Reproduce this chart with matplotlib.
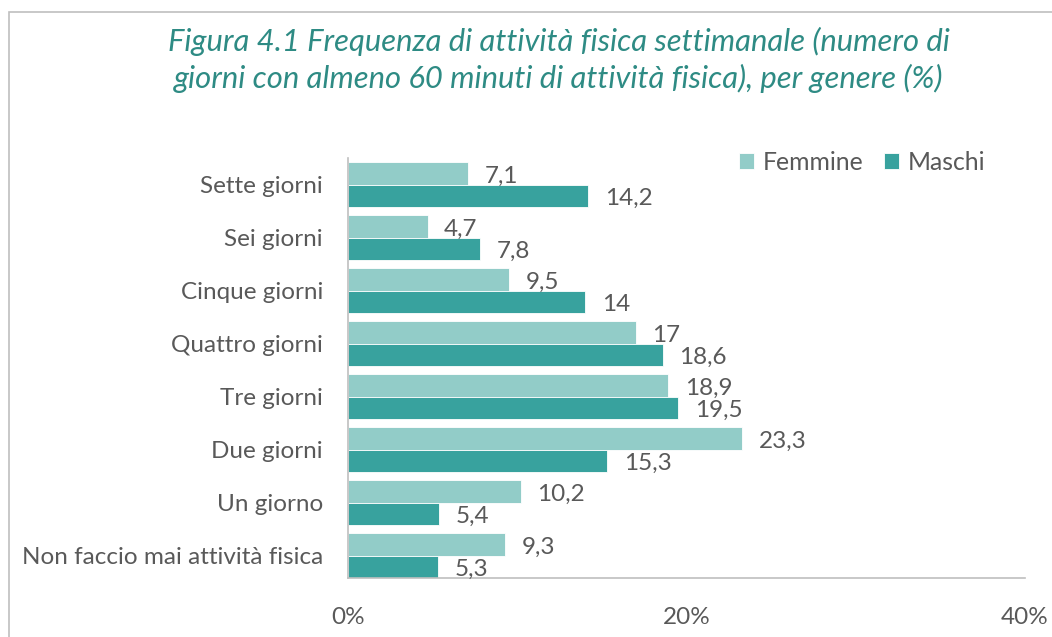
import matplotlib
matplotlib.use("Agg")
import matplotlib.pyplot as plt
from matplotlib.patches import Rectangle
import numpy as np

categories = ["Sette giorni", "Sei giorni", "Cinque giorni", "Quattro giorni",
              "Tre giorni", "Due giorni", "Un giorno", "Non faccio mai attività fisica"]
femmine = [7.1, 4.7, 9.5, 17, 18.9, 23.3, 10.2, 9.3]
maschi = [14.2, 7.8, 14, 18.6, 19.5, 15.3, 5.4, 5.3]
series_names = ["Femmine", "Maschi"]
xticks = [0, 20, 40]
title = ("Figura 4.1 Frequenza di attività fisica settimanale (numero di\n"
         "giorni con almeno 60 minuti di attività fisica), per genere (%)")

c_f = "#92CCC8"
c_m = "#38A29E"
txt = "#595959"
FS = 17.5

plt.rcParams['font.family'] = ['Lato', 'DejaVu Sans']

fig = plt.figure(figsize=(10.52, 6.37), dpi=100)
ax = fig.add_axes([348/1052, 1-578/637, (1025-348)/1052, (578-158)/637])

y = np.arange(len(categories))
h = 0.42
ax.barh(y - h/2, femmine, height=h, color=c_f, edgecolor="white", linewidth=0.6, label=series_names[0])
ax.barh(y + h/2, maschi, height=h, color=c_m, edgecolor="white", linewidth=0.6, label=series_names[1])

def fmt(v):
    return ("%g" % v).replace(".", ",")

for yi, v in zip(y - h/2, femmine):
    ax.annotate(fmt(v), (v, yi), xytext=(12, -2), textcoords="offset points",
                va="center", ha="left", fontsize=FS, color=txt)
for yi, v in zip(y + h/2, maschi):
    ax.annotate(fmt(v), (v, yi), xytext=(12, -2), textcoords="offset points",
                va="center", ha="left", fontsize=FS, color=txt)

ax.set_xlim(0, 40)
ax.set_ylim(7.42, -0.5)
ax.set_yticks(y)
ax.set_yticklabels(categories, fontsize=FS, color=txt)
ax.set_xticks(xticks)
ax.set_xticklabels([f"{t}%" for t in xticks], fontsize=FS, color=txt)
ax.tick_params(axis="both", length=0)
ax.tick_params(axis="x", pad=21)
ax.tick_params(axis="y", pad=18)
for s in ["top", "right"]:
    ax.spines[s].set_visible(False)
for s in ["left", "bottom"]:
    ax.spines[s].set_color("#BFBFBF")
    ax.spines[s].set_linewidth(1.2)

leg = ax.legend(loc="upper right", bbox_to_anchor=(995/1052, 1-141/637), bbox_transform=fig.transFigure,
                ncol=2, frameon=False, fontsize=17.8, handlelength=0.6, handleheight=0.6,
                handletextpad=0.35, columnspacing=0.85, borderaxespad=0)
for t in leg.get_texts():
    t.set_color(txt)

fig.text(559/1052, 1-60/637, title, ha="center", va="center", fontsize=22.3,
         style="italic", color="#2E8B84", linespacing=1.3)

fig.patches.append(Rectangle((9/1052, -0.5), 2, 0.5 + 1 - 12/637, transform=fig.transFigure,
                             fill=False, edgecolor="#BFBFBF", linewidth=1.2))

fig.savefig("out.png", dpi=100, facecolor="white")
